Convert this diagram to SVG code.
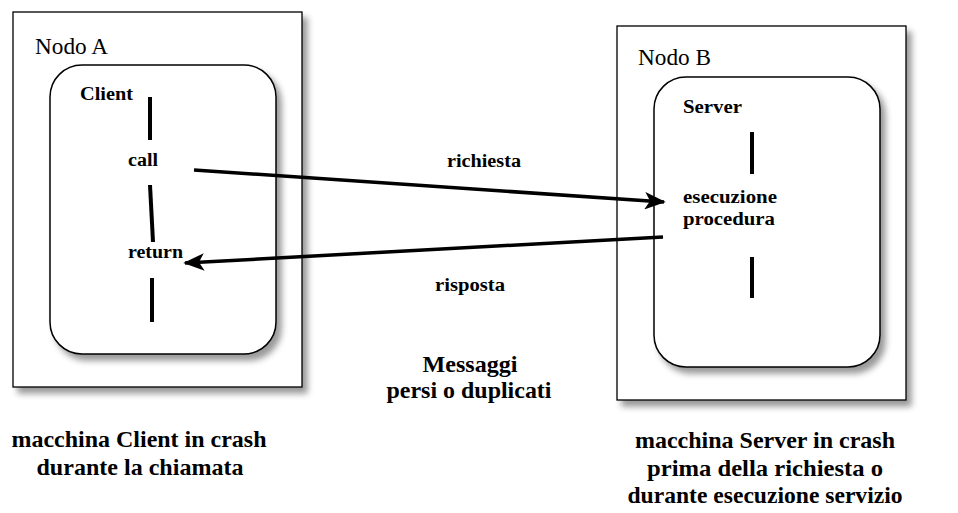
<svg xmlns="http://www.w3.org/2000/svg" width="958" height="513" viewBox="0 0 958 513" font-family="'Liberation Serif', 'Times New Roman', Times, serif">
<style>
.box{fill:#fff;stroke:#000;stroke-width:1.3;filter:url(#sh)}
.proc{fill:#fff;stroke:#000;stroke-width:1.5;filter:url(#sh)}
text{font-family:'Liberation Serif','Times New Roman',Times,serif;fill:#000}
.lbl{font-size:23px}
.b{font-weight:bold;font-size:18px}
.big{font-weight:bold;font-size:23px}
.dash{stroke:#000;stroke-width:4;fill:none}
.msg{stroke:#000;stroke-width:3.5;fill:none;marker-end:url(#ah)}
</style>
<defs>
<filter id="sh" x="-10%" y="-10%" width="130%" height="130%">
<feDropShadow dx="5" dy="6" stdDeviation="3" flood-color="#000" flood-opacity="0.4"/>
</filter>
<marker id="ah" viewBox="0 0 12 10" refX="11" refY="5" markerWidth="6" markerHeight="5" orient="auto" markerUnits="strokeWidth">
<path d="M0,0 L12,5 L0,10 L3,5 Z" fill="#000"/>
</marker>
</defs>
<g id="nodoA">
<rect class="box" x="13" y="12" width="289" height="375"/>
<text class="lbl" x="35" y="54" textLength="73" lengthAdjust="spacingAndGlyphs">Nodo A</text>
</g>
<g id="client">
<rect class="proc" x="50" y="65" width="226" height="289" rx="32"/>
<text class="b" x="80" y="100" textLength="53" lengthAdjust="spacingAndGlyphs">Client</text>
<line class="dash" x1="150" y1="97" x2="150" y2="140"/>
<text class="b" x="128" y="166" textLength="30" lengthAdjust="spacingAndGlyphs">call</text>
<line class="dash" x1="150" y1="185" x2="153" y2="242"/>
<text class="b" x="128" y="258" textLength="55" lengthAdjust="spacingAndGlyphs">return</text>
<line class="dash" x1="152" y1="278" x2="152" y2="322"/>
</g>
<g id="nodoB">
<rect class="box" x="617" y="26" width="289" height="374"/>
<text class="lbl" x="638" y="65" textLength="73" lengthAdjust="spacingAndGlyphs">Nodo B</text>
</g>
<g id="server">
<rect class="proc" x="654" y="77" width="226" height="290" rx="32"/>
<text class="b" x="683" y="113" textLength="59" lengthAdjust="spacingAndGlyphs">Server</text>
<line class="dash" x1="752" y1="132" x2="752" y2="174"/>
<text class="b" x="683" y="203" textLength="94" lengthAdjust="spacingAndGlyphs">esecuzione</text>
<text class="b" x="683" y="225" textLength="92" lengthAdjust="spacingAndGlyphs">procedura</text>
<line class="dash" x1="752" y1="257" x2="752" y2="298"/>
</g>
<g id="connectors">
<line class="msg" x1="194" y1="170" x2="664" y2="202"/>
<text class="b" x="484" y="167" text-anchor="middle" textLength="74" lengthAdjust="spacingAndGlyphs">richiesta</text>
<line class="msg" x1="663" y1="237" x2="185" y2="263"/>
<text class="b" x="470" y="291" text-anchor="middle" textLength="70" lengthAdjust="spacingAndGlyphs">risposta</text>
</g>
<g id="notes">
<text class="big" x="470" y="372" text-anchor="middle" textLength="95" lengthAdjust="spacingAndGlyphs">Messaggi</text>
<text class="big" x="469" y="398" text-anchor="middle" textLength="165" lengthAdjust="spacingAndGlyphs">persi o duplicati</text>
<text class="big" x="139" y="447" text-anchor="middle" textLength="255" lengthAdjust="spacingAndGlyphs">macchina Client in crash</text>
<text class="big" x="140" y="475" text-anchor="middle" textLength="207" lengthAdjust="spacingAndGlyphs">durante la chiamata</text>
<text class="big" x="765" y="448" text-anchor="middle" textLength="260" lengthAdjust="spacingAndGlyphs">macchina Server in crash</text>
<text class="big" x="765" y="476" text-anchor="middle" textLength="236" lengthAdjust="spacingAndGlyphs">prima della richiesta o</text>
<text class="big" x="765" y="503" text-anchor="middle" textLength="275" lengthAdjust="spacingAndGlyphs">durante esecuzione servizio</text>
</g>
</svg>
